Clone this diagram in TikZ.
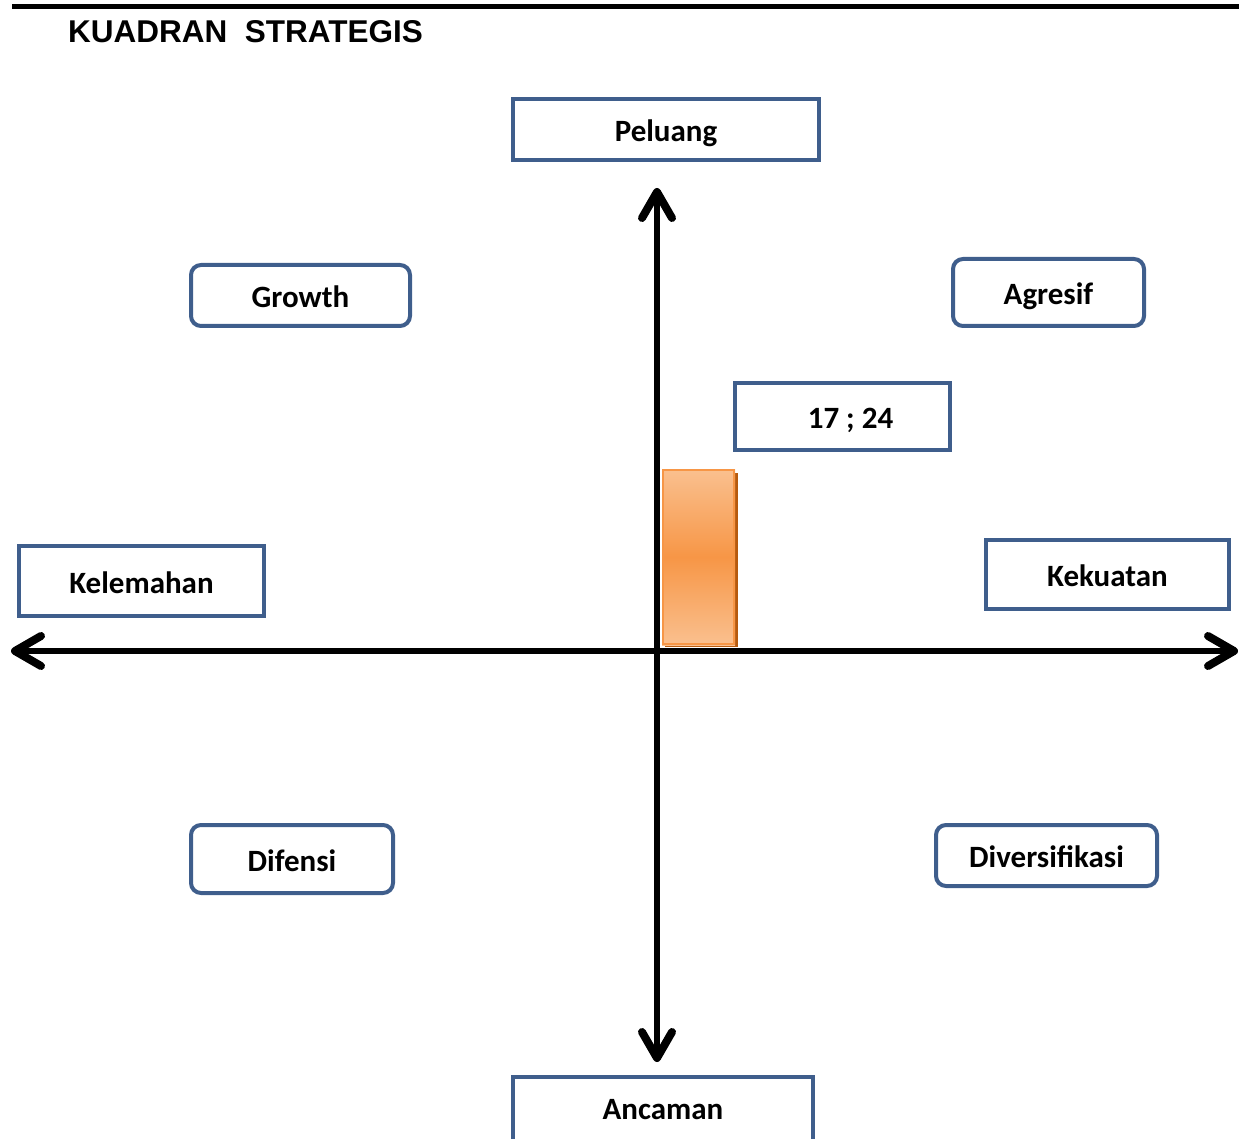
\documentclass[tikz,border=0pt]{standalone}
\usepackage{fontspec}
\setmainfont{Carlito}
\newfontfamily\titlefont{Liberation Sans}
\usetikzlibrary{arrows.meta,positioning}
\definecolor{boxblue}{HTML}{3F5E8C}
\definecolor{barorange}{HTML}{F79646}
\definecolor{barlight}{HTML}{FAC08F}
\definecolor{barshadow}{HTML}{B65A0E}

\begin{document}
\begin{tikzpicture}[x=1pt, y=-1pt,
   sqbox/.style={draw=boxblue, line width=4pt, inner sep=0pt, text height=24pt, text depth=0pt,
     font=\fontsize{31}{37}\selectfont\bfseries},
   rbox/.style={sqbox, rounded corners=10pt},
   axis/.style={line width=6pt, <->,
     >={Straight Barb[length=26pt,width=30pt,line width=2pt 1,line cap=round,line join=round]}}]
   \useasboundingbox (0,0) rectangle (1239,1139);
   % header
   \draw[line width=5pt] (12,6.5) -- (1239,6.5);
   \node[anchor=base west, inner sep=0pt, font=\titlefont\fontsize{31.5}{36}\selectfont\bfseries] (title) at (68,43) {KUADRAN\ \ STRATEGIS};
   % axes
   \coordinate (north) at (657,188);
   \coordinate (south) at (657,1062);
   \coordinate (west) at (11,651);
   \coordinate (east) at (1238,651);
   \draw[axis] (west) -- (east);
   \draw[axis] (north) -- (south);
   % position bar
   \fill[barshadow] (665,473) rectangle (738,647);
   \shade[top color=barlight, bottom color=barlight, middle color=barorange] (662,469) rectangle (735,645);
   \draw[barorange, line width=2pt] (663,470) rectangle (734,644);
   % labels
   \node[sqbox, minimum width=306pt, minimum height=61pt] (peluang) at (666,129.5) {Peluang};
   \node[sqbox, minimum width=300pt, minimum height=80pt, text depth=19pt] (ancaman) at (663,1117) {Ancaman};
   \node[sqbox, minimum width=245pt, minimum height=70pt] (kelemahan) at (141.5,581) {Kelemahan};
   \node[sqbox, minimum width=243pt, minimum height=69pt] (kekuatan) at (1107.5,574.5) {Kekuatan};
   \node[sqbox, minimum width=215pt, minimum height=67pt] (nilai) at (842.5,416.5) {\hspace*{16pt}17 ; 24};
   \node[rbox, minimum width=219pt, minimum height=61pt] (growth) at (300.5,295.5) {Growth};
   \node[rbox, minimum width=191pt, minimum height=67pt] (agresif) at (1048.5,292.5) {Agresif};
   \node[rbox, minimum width=202pt, minimum height=68pt] (difensi) at (292,859) {Difensi};
   \node[rbox, minimum width=221pt, minimum height=61pt] (diversifikasi) at (1046.5,855.5) {Diversifikasi};
\end{tikzpicture}
\end{document}
